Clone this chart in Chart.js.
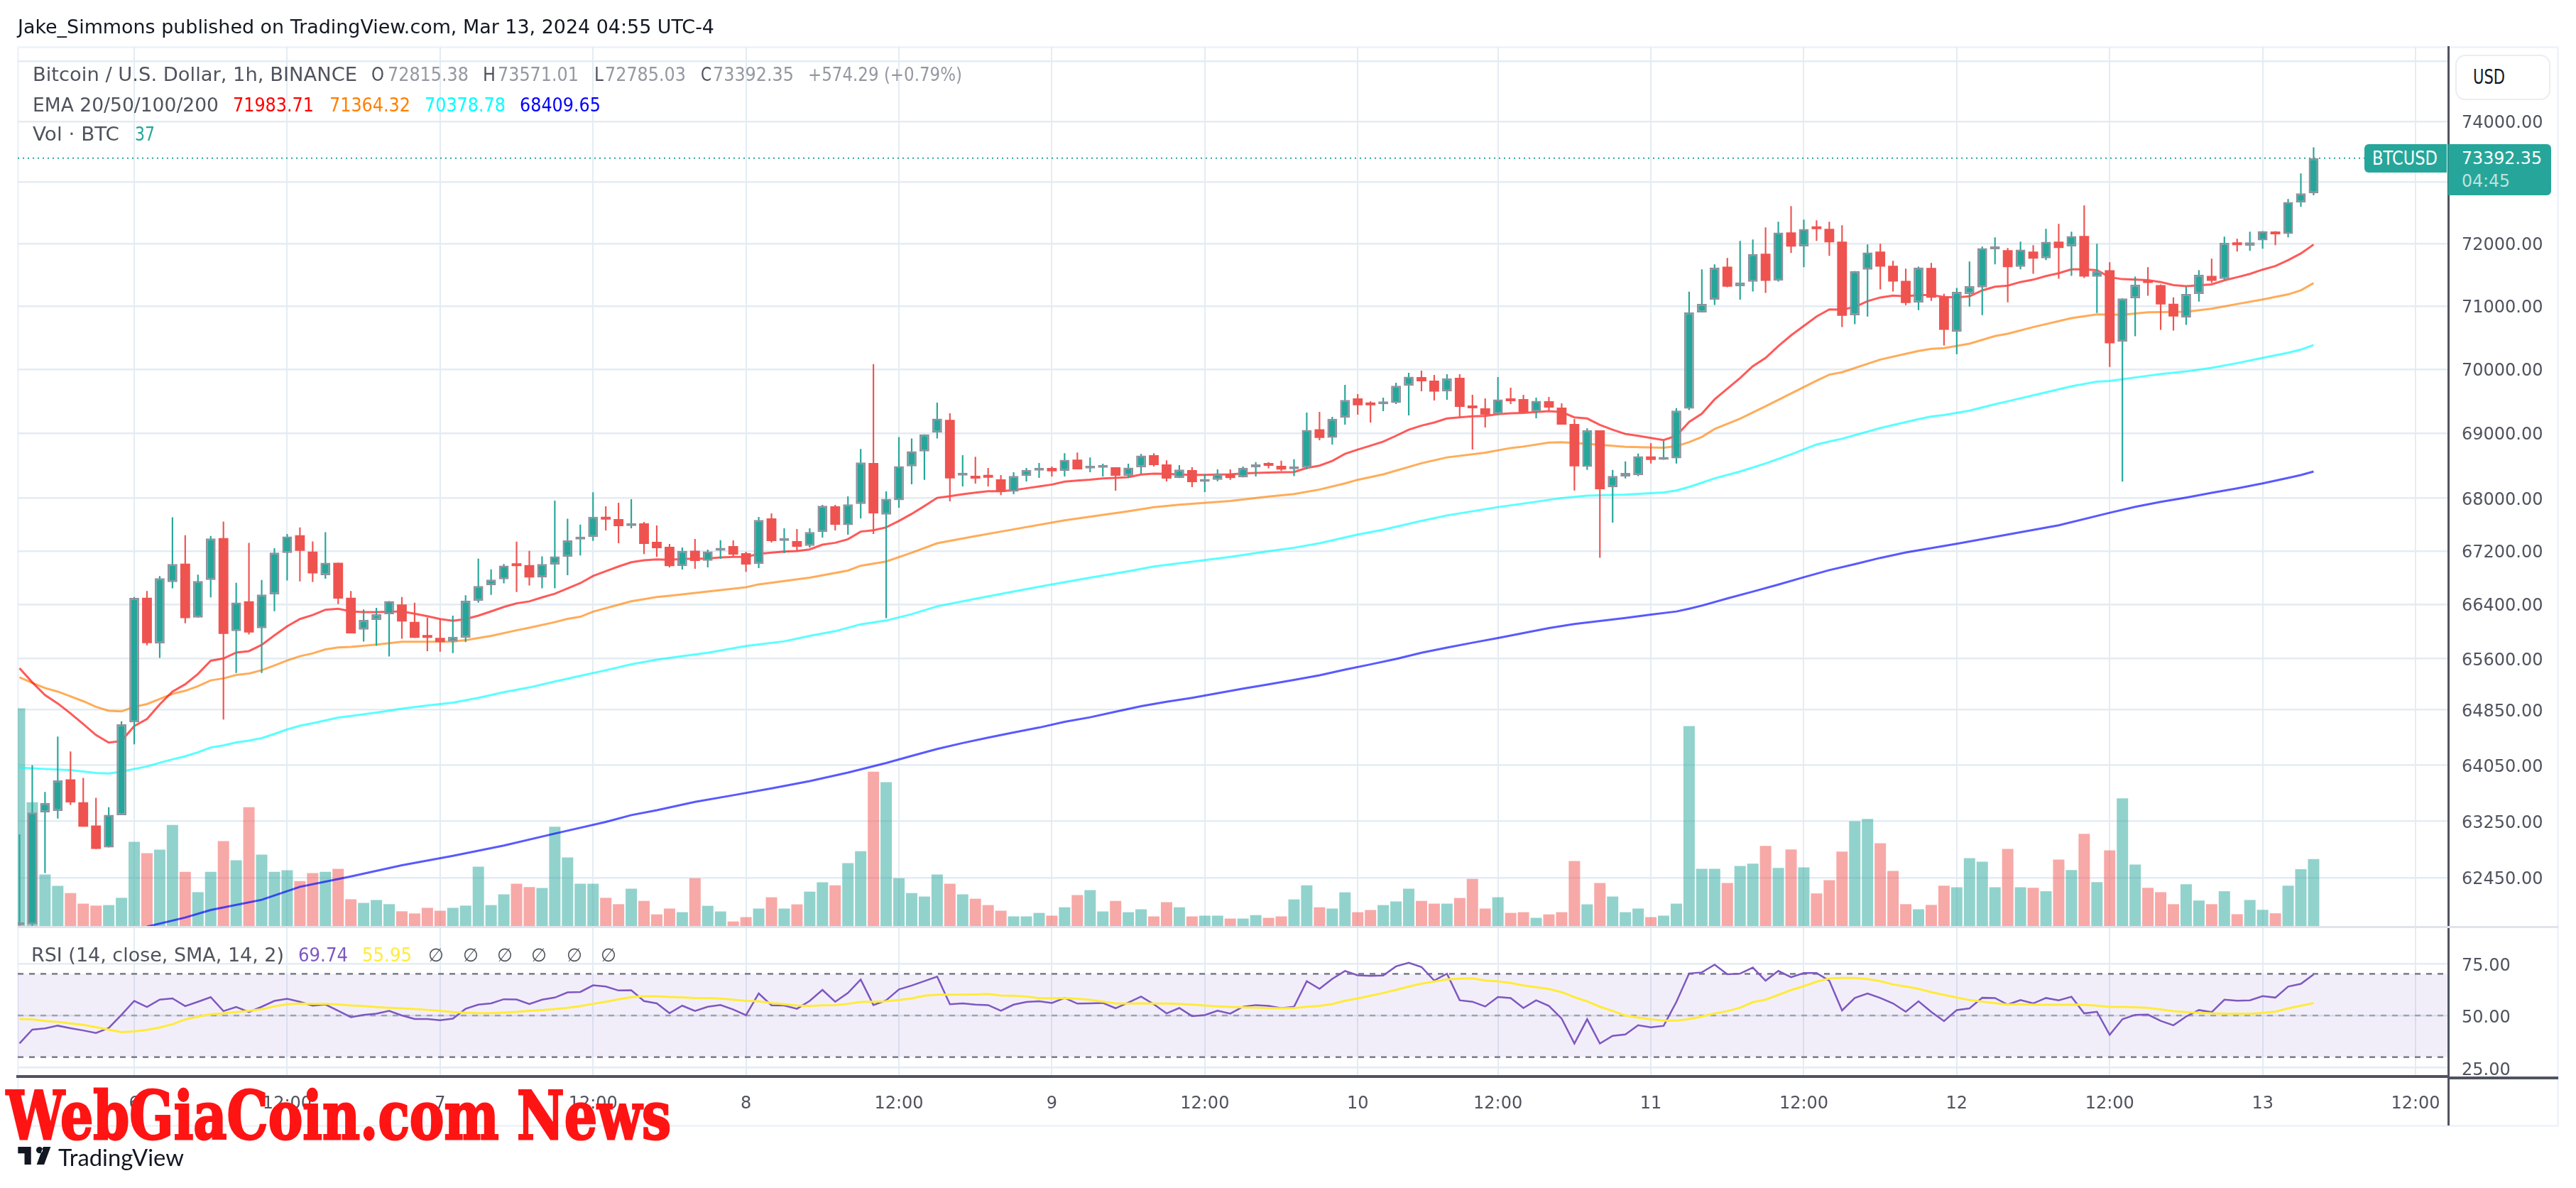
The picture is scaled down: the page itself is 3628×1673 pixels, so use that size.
<!DOCTYPE html>
<html><head><meta charset="utf-8"><title>BTCUSD</title>
<script src="https://cdn.jsdelivr.net/npm/chart.js@4/dist/chart.umd.js"></script>
<style>
html,body{margin:0;padding:0;background:#fff;width:3628px;height:1673px;overflow:hidden}
#wrap{position:relative;width:3628px;height:1673px}
canvas{position:absolute;left:0;top:0}
.t{position:absolute;white-space:nowrap;transform-origin:left center;font-family:"DejaVu Sans",sans-serif;line-height:1}
.b{position:absolute;box-sizing:border-box}
</style></head><body><div id="wrap">
<div class="b" style="left:24px;top:65px;width:3580px;height:1522px;border:3px solid #f0f3fa"></div>
<canvas id="c" width="3628" height="1673"></canvas>
</div>
<script>
const open=[61790,61800,63375,63395,63845,63519,63187,62876,63334,64666,
66500,65820,66733,67010,66204,66766,67395,66004,66446,66046,
66550,67170,67438,67192,66838,67023,66500,66025,66171,66254,
66400,66142,65925,65904,65850,65908,66454,66686,66775,66990,
66990,66804,66998,67116,67375,67411,67716,67684,67580,67619,
67339,67264,66972,67207,67054,67207,67275,67168,67004,67695,
67354,67350,67278,67487,67878,67591,67914,68540,67752,67971,
68490,68718,69011,69208,68348,68345,68334,68290,68101,68341,
68424,68464,68417,68594,68457,68468,68475,68345,68475,68660,
68518,68309,68431,68251,68283,68377,68320,68475,68510,68497,
68446,68468,69063,68930,69240,69542,69454,69450,69469,69738,
69875,69819,69649,69863,69421,69387,69295,69542,69531,69336,
69498,69398,69144,68482,69044,68167,68334,68352,68642,68591,
68612,69382,70895,71095,71629,71313,71385,71836,71404,72181,
71954,72250,72239,72031,70850,71580,71870,71641,71400,71053,
71607,71141,70588,71191,71294,71909,71893,71626,71870,71763,
72031,71954,72123,71466,71572,70431,71122,71396,71332,71034,
70813,71191,71480,71431,72004,71966,72050,72193,72154,72665,72815.38];
const close=[61810,63371,63507,63829,63515,63171,62856,63338,64638,66497,
65825,66792,67006,66196,66750,67391,65962,66429,65983,66547,
67175,67421,67204,66863,67023,66488,65970,66171,66254,66450,
66146,65904,65904,65842,65920,66454,66674,66770,66981,66973,
66804,67006,67120,67364,67411,67720,67677,67576,67609,67307,
67242,66974,67203,67050,67196,67243,67146,66997,67670,67350,
67368,67264,67487,67885,67598,67907,68548,67770,67993,68493,
68721,68982,69227,68304,68363,68301,68316,68101,68341,68435,
68460,68413,68590,68442,68471,68482,68345,68471,68656,68508,
68301,68439,68247,68287,68373,68309,68468,68497,68497,68439,
68475,69052,68926,69225,69517,69435,69435,69465,69738,69882,
69808,69646,69856,69410,69387,69284,69524,69498,69321,69502,
69398,69133,68490,69048,68138,68341,68388,68645,68587,68627,
69350,70895,71030,71614,71305,71374,71832,71400,72177,71950,
72235,72231,72019,70843,71557,71855,71629,71389,71046,71614,
71130,70618,71225,71316,71924,71924,71618,71901,71756,72027,
71927,72119,71469,71557,70405,71118,71336,71366,71023,70831,
71191,71496,71400,72012,71973,72019,72200,72150,72674,72815,73392.35];
const high=[63061,64050,63664,64462,64246,63865,63580,63447,64683,66510,
66602,66825,67710,67438,66846,67429,67646,66724,67323,66766,
67242,67459,67557,67344,67484,67023,66600,66325,66350,66450,
66510,66425,66204,66175,66233,66538,67086,66926,67006,67343,
67204,67120,67966,67689,67601,68093,67878,67932,67986,67640,
67587,67307,67254,67383,67222,67365,67361,67190,67716,67770,
67544,67533,67544,67900,67900,68029,68757,70078,68106,68942,
68920,68982,69476,69309,68660,68638,68464,68356,68399,68464,
68540,68486,68691,68703,68627,68530,68475,68530,68681,68692,
68583,68508,68475,68367,68442,68442,68486,68555,68555,68576,
68598,69321,69332,69255,69753,69609,69498,69553,69786,69941,
69974,69908,69919,69919,69598,69542,69875,69708,69598,69553,
69564,69465,69221,69078,69044,68435,68566,68685,68848,68881,
69391,71228,71584,71664,71767,72042,72065,72262,72354,72608,
72389,72377,72354,72296,71557,71985,71996,71721,71595,71629,
71687,71194,71286,71710,71950,72100,71927,72031,71973,72239,
72320,72193,72620,71996,71698,71118,71469,71618,71343,71137,
71305,71572,71756,72112,72077,72193,72200,72200,72724,73140,73571.01];
const low=[61785,61785,62517,63286,63479,63171,62856,62876,63334,64348,
65795,65608,66640,66120,66204,66505,64707,65386,65954,65386,
66300,66758,66745,66737,66784,66404,65970,65850,65787,65629,
65890,65904,65708,65700,65680,65842,66425,66543,66716,66585,
66682,66640,66640,66838,67134,67354,67512,67318,67544,67156,
67113,66954,66922,66932,66954,67082,67114,66889,66943,67329,
67168,67211,67254,67404,67512,67447,67695,67458,66196,67856,
68214,68283,68920,67953,68182,68225,68182,68050,68061,68258,
68312,68334,68334,68442,68399,68334,68117,68320,68377,68486,
68258,68309,68171,68095,68261,68283,68320,68334,68460,68417,
68338,68446,68892,68826,69133,69288,69166,69343,69454,69277,
69653,69509,69520,69255,68750,69089,69284,69454,69321,69232,
69354,69133,68120,68435,67099,67631,68305,68338,68533,68591,
68533,69360,70895,71015,71297,71099,71229,71206,71389,71847,
71618,72042,71801,70663,70708,70831,71263,71229,71011,70933,
71080,70371,70236,70989,70854,71664,71057,71584,71515,71733,
71435,71480,71446,70888,70034,68255,70517,71160,70618,70607,
70697,71069,71366,71412,71870,71882,71916,71973,72100,72595,72785.03];
const volume=[119.8,68.2,28.5,22.3,18.3,12.5,11.4,11.7,15.7,46.4,
40.2,42.2,55.7,30,18.8,30,46.8,36.3,65.5,39.4,
30,30.8,24.9,29.3,30,31.6,14.9,12.9,14.5,12.2,
8.3,7.1,10.2,8.6,10.2,11.4,32.8,11.7,17.6,23.4,
21.6,21.1,54.7,37.9,23.4,23.4,15.7,12.2,20.7,14,
6.6,9.8,7.8,26.5,11.3,8.2,2.7,5.1,9.8,16,
9.8,12.1,19.1,24.2,22.6,34.7,41.3,85,79.2,26.5,
18.3,16.4,28.5,23.4,17.6,15.2,11.7,8.6,5.5,5.5,
7.4,5.9,10.5,17.2,19.9,8.2,14,7.8,9.4,5.5,
13.3,10.5,5.5,5.9,5.9,4.3,4.3,6.2,4.7,5.5,
14.8,22.6,10.5,9.8,18.7,7.8,9,11.7,13.7,20.7,
14,12.5,12.5,15.6,26.1,9.8,16,7.4,7.8,4.7,
6.6,7.8,35.9,12.1,23.8,16.4,7.8,9.8,5.1,5.9,
12.5,110,31.6,31.6,23.8,33.2,34.5,44.2,32.1,42.3,
32.4,18.1,25.4,41.1,57.8,59,45.7,30.5,12.2,9.4,
11.8,22.4,21.5,37.5,35.5,21.5,42.5,21.5,21.2,19.3,
36.7,30.9,50.8,24.3,41.8,70.3,34,21.2,18.8,12.2,
23.1,14.2,12.2,19.3,6.7,14.5,9.1,7.2,22.4,31.4,37];
const ema20=[65456,65250,65064,64941,64797,64642,64483,64373,64397,64613,
64716,64928,65114,65221,65373,65567,65600,65687,65708,65800,
65941,66075,66183,66242,66321,66337,66296,66287,66287,66292,
66296,66262,66225,66183,66158,66183,66233,66296,66362,66417,
66446,66505,66560,66640,66718,66825,66897,66968,67032,67061,
67075,67068,67082,67082,67089,67104,67111,67111,67157,67175,
67193,67200,67225,67296,67325,67379,67494,67515,67558,67655,
67763,67882,68007,68033,68062,68087,68109,68109,68124,68153,
68181,68210,68254,68272,68286,68305,68312,68323,68363,68377,
68374,68363,68359,68359,68363,68366,68381,68388,68395,68399,
68403,68464,68500,68573,68681,68747,68808,68870,68960,69055,
69118,69166,69229,69247,69262,69269,69295,69310,69314,69328,
69343,69328,69247,69229,69129,69055,68989,68960,68928,68895,
68960,69175,69304,69526,69693,69859,70045,70176,70363,70532,
70682,70831,70944,70940,70981,71076,71134,71164,71153,71172,
71172,71141,71137,71153,71247,71305,71324,71381,71419,71477,
71523,71584,71584,71572,71458,71427,71420,71412,71381,71332,
71316,71328,71343,71408,71458,71511,71580,71637,71733,71840,71983.71];
const ema50Bars=[0,1,2,3,4,5,6,7,8,9,10,11,12,13,14,15,16,17,18,19,20,21,22,23,24,25,26,28,29,30,32,34,35,37,39,40,42,43,44,45,48,50,51,57,58,62,65,66,68,70,72,75,77,82,87,89,91,95,98,100,102,104,105,107,110,112,115,117,118,120,121,123,126,129,130,131,132,133,135,137,139,141,142,143,146,148,149,150,151,153,155,156,158,161,163,165,167,170,172,174,176,178,179,180];
const ema50=[65324,65242,65167,65114,65044,64974,64892,64834,64826,64892,64933,65007,65081,65126,65192,65279,65307,65357,65378,65427,65497,65571,65633,65675,65733,65763,65771,65804,65825,65846,65846,65850,65871,65933,66016,66054,66137,66186,66217,66292,66447,66510,66528,66657,66700,66800,66907,66979,67043,67175,67318,67426,67494,67666,67802,67864,67903,67960,68027,68065,68134,68228,68283,68366,68537,68627,68700,68772,68794,68855,68862,68837,68790,68776,68800,68862,68942,69065,69225,69418,69619,69819,69913,69950,70150,70240,70285,70318,70330,70401,70521,70558,70663,70805,70865,70858,70899,70906,70955,71030,71103,71183,71248,71364.32];
const ema100Bars=[0,2,4,6,7,8,9,10,11,12,13,14,15,16,17,18,19,20,21,22,23,24,25,26,28,30,32,34,36,38,40,42,44,46,48,50,52,54,57,60,62,64,66,68,70,72,75,78,81,84,87,89,92,95,98,100,102,105,107,110,112,116,118,121,123,126,129,130,131,132,133,135,137,139,141,142,143,146,149,150,151,153,155,156,159,161,163,164,165,167,168,170,172,174,176,178,179,180];
const ema100=[64014,63994,63978,63937,63929,63954,63994,64030,64083,64132,64176,64234,64303,64332,64377,64401,64438,64499,64564,64617,64654,64695,64736,64760,64809,64866,64912,64953,65023,65105,65175,65262,65344,65427,65514,65582,65635,65684,65783,65853,65933,66003,66105,66161,66256,66372,66484,66593,66700,66800,66896,66968,67040,67111,67198,67250,67319,67450,67522,67656,67739,67866,67920,68004,68040,68058,68090,68120,68174,68239,68306,68410,68535,68674,68826,68873,68915,69081,69218,69259,69281,69352,69451,69496,69637,69730,69804,69815,69841,69896,69922,69963,70020,70094,70176,70258,70307,70378.78];
const ema200Bars=[10,13,15,19,22,26,30,34,38,42,46,48,50,53,56,59,62,65,68,70,72,74,76,78,80,82,84,86,88,90,92,94,96,98,100,102,104,106,108,110,112,114,116,118,120,122,124,126,128,130,131,132,134,136,138,140,142,144,146,148,152,156,160,164,166,168,170,172,174,176,178,179,180];
const ema200=[61770,61896,62000,62143,62324,62470,62627,62758,62903,63073,63238,63335,63405,63523,63618,63716,63820,63942,64080,64181,64281,64367,64446,64519,64591,64674,64740,64822,64902,64965,65024,65091,65157,65220,65286,65352,65436,65513,65593,65684,65761,65832,65902,65976,66049,66109,66154,66200,66249,66295,66337,66382,66490,66592,66697,66807,66913,67002,67097,67179,67310,67450,67590,67780,67870,67946,68011,68083,68151,68227,68313,68356,68409.65];
const rsi=[36.6,43.2,43.8,45.1,43.9,42.8,41.6,44,50.3,57,
54.1,57.6,58.2,54.5,56.6,58.8,52.1,54.1,51.7,54.2,
57,58,56.6,54.7,55.3,52.3,49.2,50.3,50.9,52.2,
50,48.3,48.3,47.7,48.5,53.2,55.2,55.8,57.8,57.7,
55.5,57.6,58.6,61.1,61.3,64.5,63.9,62,62.1,56.9,
55.8,51.1,54.7,52.2,54.2,55,52.9,50.1,60.6,54.9,
54.8,53.2,57,62.3,56.6,60.8,67.3,55,57.3,62.5,
64.4,66.5,68.7,55.4,55.8,55.2,55,52.3,55.2,56.5,
56.8,56,58.4,55.7,55.8,56,53.5,56.2,59.1,55.4,
51,53.6,49.7,50.2,52.3,50.9,54.2,55,54.6,53.5,
54.2,66.5,62.8,67.6,71.4,69.3,69,69.2,73.6,75.3,
73.3,66.8,70.1,57.3,56.6,54.3,58.9,58.4,53.6,57.3,
54.6,48.5,36.5,48.2,36.5,40.2,40.9,45.3,44.3,45,
56.5,70.2,70.7,74.4,69.8,70.1,73,66.7,71.4,68.4,
70.4,70.4,66.7,52.4,58.4,60.6,58.4,55.8,51.8,56.8,
51.7,47.3,52.6,53.4,58.5,58.4,55.2,57.4,55.8,58.4,
57.3,59,51,51.8,40.7,48.2,50.3,50.4,47.4,45.3,
49.5,52.6,51.6,57.6,57.1,57.3,59.3,58.6,63.9,65.2,69.74];
const rsiSma=[48.3,48.1,47.4,46.9,46.2,45.5,44.4,43.2,42,42.3,
43.1,44.2,45.8,48.1,49.4,50.6,51,51.6,52.2,53,
54.4,55.4,55.7,55.6,55.6,55.3,54.8,54.5,54,53.7,
53.4,53.1,52.7,52.2,51.6,51.3,51.1,51.1,51.4,51.7,
52.2,52.6,53.1,53.7,54.5,55.6,56.6,57.8,58.8,59.2,
59.2,58.9,58.7,58.4,58.4,58.1,57.6,57,56.8,56,
55.4,54.8,54.5,54.9,55,55.6,56.5,56.6,56.8,57.4,
58.2,59.5,60,60,60,60.1,60.3,59.6,59.5,59.1,
58.3,58.3,58.3,58,57.5,56.7,55.7,55.7,55.8,55.7,
55.7,55.6,55.2,54.8,54.4,54.1,53.9,53.8,53.6,53.4,
53.6,54.2,54.6,55.5,57.1,58.2,59.5,60.8,62.3,63.9,
65.3,66.3,67.3,67.7,67.8,66.8,66.4,65.6,64.4,63.6,
62.7,61.2,58.8,56.8,54.2,52.2,50,49,48.1,47.5,
47.5,48.3,49.5,51,52.1,53.7,56.4,57.6,59.9,62.2,
64.1,66.2,67.8,68,68,67.5,66.5,64.9,63.9,62.8,
61.2,59.9,58.6,57.4,56.7,55.9,55.2,55.5,55.2,55.1,
55.1,55.2,55.1,54.7,54.1,54.1,53.9,53.7,52.9,52.1,
51.6,51.3,51,50.9,50.9,50.8,51.3,51.8,53.4,54.7,55.95];
const timeBars=[9,21,33,45,57,69,81,93,105,116,128,140,152,164,176,188];
const timeLabels=['6','12:00','7','12:00','8','12:00','9','12:00','10','12:00','11','12:00','12','12:00','13','12:00'];
const priceTicks=[75000,74000,73000,72000,71000,70000,69000,68000,67200,66400,65600,64850,64050,63250,62450];
const hiddenPriceLabels=[75000,73000];
const rsiTicks=[75,50,25];
const lastPrice=73392.35;

const GREEN='#26a69a',RED='#ef5350',GRID='#e4ecf3',AX='#50535e',FONT='"DejaVu Sans",sans-serif';
const bars=open.map((_,i)=>i);
const up=bars.map(i=>close[i]>=open[i]);
const pts=(xs,ys)=>xs.map((x,i)=>({x,y:ys[i]}));
const line=(label,xs,ys,color,w,yAxisID,order)=>({type:'line',label,data:pts(xs,ys),borderColor:color,borderWidth:w,pointRadius:0,tension:0,fill:false,yAxisID,order});
const barDs=(label,data,colors,pct,yAxisID,order,extra)=>Object.assign({type:'bar',label,data,backgroundColor:colors,grouped:false,categoryPercentage:1,barPercentage:pct,yAxisID,order,borderSkipped:false},extra||{});

const furniture={id:'furniture',beforeDatasetsDraw(ch){
  const {ctx,chartArea:a,scales:s}=ch;const r=s.yRsi;
  ctx.save();
  ctx.fillStyle='rgba(126,87,194,0.1)';
  ctx.fillRect(a.left,r.getPixelForValue(70),a.width,r.getPixelForValue(30)-r.getPixelForValue(70));
  ctx.lineWidth=2.5;ctx.setLineDash([8,8]);
  [[70,'#787b86'],[50,'rgba(120,123,134,.6)'],[30,'#787b86']].forEach(([v,c])=>{const y=r.getPixelForValue(v);ctx.strokeStyle=c;ctx.beginPath();ctx.moveTo(a.left,y);ctx.lineTo(a.right,y);ctx.stroke();});
  const py=s.y.getPixelForValue(lastPrice);
  ctx.strokeStyle=GREEN;ctx.lineWidth=2;ctx.setLineDash([2,5]);ctx.beginPath();ctx.moveTo(a.left,py);ctx.lineTo(3330,py);ctx.stroke();
  ctx.restore();
}};

new Chart(document.getElementById('c'),{
  data:{datasets:[
    barDs('Volume',pts(bars,volume),up.map(u=>u?'rgba(38,166,154,.5)':'rgba(239,83,80,.5)'),0.89,'yVol',9),
    line('EMA 200',ema200Bars,ema200,'rgba(0,0,255,.65)',3,'y',8),
    line('EMA 100',ema100Bars,ema100,'rgba(0,255,255,.65)',3,'y',7),
    line('EMA 50',ema50Bars,ema50,'rgba(255,127,0,.65)',3,'y',6),
    line('EMA 20',bars,ema20,'rgba(255,0,0,.65)',3,'y',5),
    barDs('Wick',bars.map(i=>({x:i,y:[low[i],high[i]]})),up.map(u=>u?GREEN:RED),0.12,'y',3),
    barDs('Candle',bars.map(i=>({x:i,y:[open[i],close[i]]})),up.map(u=>u?GREEN:RED),0.77,'y',2,{borderColor:up.map(u=>u?'#8f919c':RED),borderWidth:up.map(u=>u?2.5:0),minBarLength:4}),
    line('RSI',bars,rsi,'#7e57c2',2.5,'yRsi',1),
    line('RSI SMA',bars,rsiSma,'#ffeb3b',3,'yRsi',0)
  ]},
  options:{
    responsive:false,animation:false,devicePixelRatio:1,
    layout:{padding:{left:25,top:66,right:25,bottom:88}},
    plugins:{legend:{display:false},tooltip:{enabled:false}},
    scales:{
      x:{type:'linear',position:'bottom',offset:false,min:-0.139,max:190.56,bounds:'data',
        afterBuildTicks:s=>{s.ticks=timeBars.map(v=>({value:v}));},
        afterFit:s=>{s.height=69;},
        grid:{offset:false,color:GRID,lineWidth:2,drawTicks:false},
        border:{display:true,color:AX,width:4},
        ticks:{autoSkip:false,maxRotation:0,padding:24,color:AX,font:{family:FONT,size:24},callback:v=>timeLabels[timeBars.indexOf(v)]}},
      y:{type:'logarithmic',position:'right',stack:'panes',stackWeight:1238.6,min:61773,max:75248,bounds:'data',
        afterBuildTicks:s=>{s.ticks=priceTicks.map(v=>({value:v}));},
        afterFit:s=>{s.width=155;},
        grid:{color:GRID,lineWidth:2.5,drawTicks:false},
        border:{display:true,color:AX,width:3},
        ticks:{autoSkip:false,padding:19,labelOffset:3,color:AX,major:{enabled:false},font:{family:FONT,size:24},callback:v=>hiddenPriceLabels.includes(v)?'':v.toFixed(2)}},
      yRsi:{type:'linear',position:'right',stack:'panes',stackWeight:211.4,min:20.67,max:92.8,bounds:'data',
        afterBuildTicks:s=>{s.ticks=rsiTicks.map(v=>({value:v}));},
        afterFit:s=>{s.width=155;},
        grid:{color:GRID,lineWidth:2.5,drawTicks:false},
        border:{display:true,color:AX,width:3},
        ticks:{autoSkip:false,padding:19,labelOffset:4,color:AX,font:{family:FONT,size:24},callback:v=>v.toFixed(2)}},
      yVol:{type:'linear',display:false,position:'right',min:-82.45,max:483.05,bounds:'data'}
    }
  },
  plugins:[furniture]
});

const wrap=document.getElementById('wrap');
function box(x,y,w,h,css){const d=document.createElement('div');d.className='b';d.style.cssText+=`left:${x}px;top:${y}px;width:${w}px;height:${h}px;${css}`;wrap.appendChild(d);return d;}
function T(txt,x,yc,w,size,color,css){const d=document.createElement('div');d.className='t';d.textContent=txt;d.style.cssText+=`left:${x}px;top:${yc}px;font-size:${size}px;color:${color};${css||''}`;wrap.appendChild(d);
  const m=d.getBoundingClientRect().width;d.style.transform=`translateY(-50%) scaleX(${w/m})`;return d;}

box(25,1304,3578,3,'background:#e0e3eb');
box(3447,1516,3,69,'background:'+AX);
box(3448,1516,155,4,'background:'+AX);
box(3458,77,134,64,'border:2px solid #ebedf3;border-radius:14px;background:#fff');
T('USD',3483,109,45,28,'#131722');

const lab='#50535e',val='#9598a1',S=26;
T('Jake_Simmons published on TradingView.com, Mar 13, 2024 04:55 UTC-4',25,38,981,S,'#131722');
T('Bitcoin / U.S. Dollar, 1h, BINANCE',46,105,457,S,lab);
[['O',523,18,lab],['72815.38',546,114,val],['H',680,18,lab],['73571.01',701,114,val],['L',837,13,lab],['72785.03',852,114,val],['C',987,15,lab],['73392.35',1004,114,val],['+574.29 (+0.79%)',1138,217,val]].forEach(r=>T(r[0],r[1],105,r[2],S,r[3]));
T('EMA 20/50/100/200',46,148,262,S,lab);
[['71983.71',328,'#ff0000'],['71364.32',464,'#ff7f00'],['70378.78',598,'#00ffff'],['68409.65',732,'#0000ff']].forEach(r=>T(r[0],r[1],148,114,S,r[2]));
T('Vol · BTC',46,189,122,S,lab);
T('37',190,189,28,S,GREEN);
T('RSI (14, close, SMA, 14, 2)',44,1345,356,S,lab);
T('69.74',420,1345,70,S,'#7e57c2');
T('55.95',510,1345,70,S,'#ffeb3b');
[603,652,700,748,798,846].forEach(x=>T('∅',x,1345,22,S,lab));

box(3330,203,116,40,'background:'+GREEN+';border-radius:6px 0 0 6px');
T('BTCUSD',3341,223,92,26,'#fff');
box(3448,203,145,72,'background:'+GREEN+';border-radius:0 6px 6px 0');
T('73392.35',3467,223,113,24,'#fff');
T('04:45',3467,255,68,24,'rgba(255,255,255,.7)');

T('WebGiaCoin.com News',9,1571,936,93,'#ff1414','font-family:"DejaVu Serif",serif;font-weight:bold;-webkit-text-stroke:3px #ff1414');
wrap.insertAdjacentHTML('beforeend','<svg style="position:absolute;left:25px;top:1615px" width="48" height="25" viewBox="0 0 36 19"><path fill="#131722" d="M14 0H0v7h7v12h7V0zM28 19h-8L27 0h8l-7 19zM23 7a3.5 3.5 0 1 0 0-7 3.5 3.5 0 0 0 0 7z"/></svg>');
T('TradingView',82,1630,177,32,'#131722','font-family:Lato,sans-serif');
</script></body></html>
